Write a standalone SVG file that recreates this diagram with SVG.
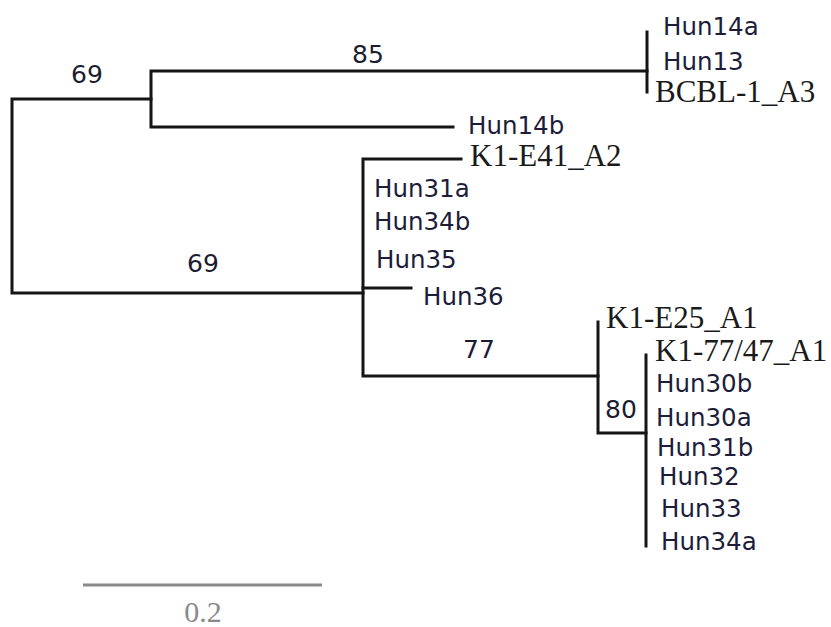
<svg xmlns="http://www.w3.org/2000/svg" width="831" height="627" viewBox="0 0 831 627">
  <style>
    .br { fill: none; stroke: #151515; stroke-width: 3; stroke-linecap: square; stroke-linejoin: miter; }
    .sans { font-family: "DejaVu Sans", Verdana, sans-serif; font-size: 24.5px; fill: #1d1d3a; }
    .serif { font-family: "Liberation Serif", "Times New Roman", serif; font-size: 31px; fill: #1a1a1a; }
    .boot { font-family: "DejaVu Sans", Verdana, sans-serif; font-size: 25px; fill: #1c1c30; text-anchor: middle; }
    .scale { stroke: #8a8a8a; stroke-width: 3; }
    .scaletext { font-family: "Liberation Serif", "Times New Roman", serif; font-size: 30px; fill: #8a8a8a; text-anchor: middle; }
  </style>

  <rect width="831" height="627" fill="#ffffff"/>

  <!-- branches of the tree -->
  <g id="connectors">
    <!-- root -->
    <path class="br" d="M151,99 H12 V293 H363"/>
    <!-- upper clade -->
    <path class="br" d="M647,71 H151 V127 H453"/>
    <path class="br" d="M647,32 V92"/>
    <!-- lower clade -->
    <path class="br" d="M461,159 H363 V376 H598"/>
    <path class="br" d="M363,288 H411"/>
    <path class="br" d="M598,322 V433 H646"/>
    <path class="br" d="M646,355 V546"/>
  </g>

  <!-- bootstrap values -->
  <g id="support">
    <text class="boot" x="87" y="83">69</text>
    <text class="boot" x="368" y="63">85</text>
    <text class="boot" x="203" y="272">69</text>
    <text class="boot" x="479" y="358">77</text>
    <text class="boot" x="621" y="418">80</text>
  </g>

  <!-- taxa -->
  <g id="Hun14a"><text class="sans" x="663" y="35">Hun14a</text></g>
  <g id="Hun13"><text class="sans" x="663" y="70">Hun13</text></g>
  <g id="BCBL-1_A3"><text class="serif" x="655" y="102">BCBL-1_A3</text></g>
  <g id="Hun14b"><text class="sans" x="468" y="134">Hun14b</text></g>
  <g id="K1-E41_A2"><text class="serif" x="470" y="166">K1-E41_A2</text></g>
  <g id="Hun31a"><text class="sans" x="374" y="197">Hun31a</text></g>
  <g id="Hun34b"><text class="sans" x="374" y="230">Hun34b</text></g>
  <g id="Hun35"><text class="sans" x="376" y="268">Hun35</text></g>
  <g id="Hun36"><text class="sans" x="423" y="305">Hun36</text></g>
  <g id="K1-E25_A1"><text class="serif" x="606" y="328">K1-E25_A1</text></g>
  <g id="K1-77-47_A1"><text class="serif" x="655" y="361">K1-77/47_A1</text></g>
  <g id="Hun30b"><text class="sans" x="656" y="392">Hun30b</text></g>
  <g id="Hun30a"><text class="sans" x="656" y="426">Hun30a</text></g>
  <g id="Hun31b"><text class="sans" x="657" y="456">Hun31b</text></g>
  <g id="Hun32"><text class="sans" x="659" y="485">Hun32</text></g>
  <g id="Hun33"><text class="sans" x="661" y="517">Hun33</text></g>
  <g id="Hun34a"><text class="sans" x="661" y="550">Hun34a</text></g>

  <!-- scale bar -->
  <g id="scalebar">
    <line class="scale" x1="83" y1="585" x2="322" y2="585"/>
    <text class="scaletext" x="203" y="622">0.2</text>
  </g>
</svg>
